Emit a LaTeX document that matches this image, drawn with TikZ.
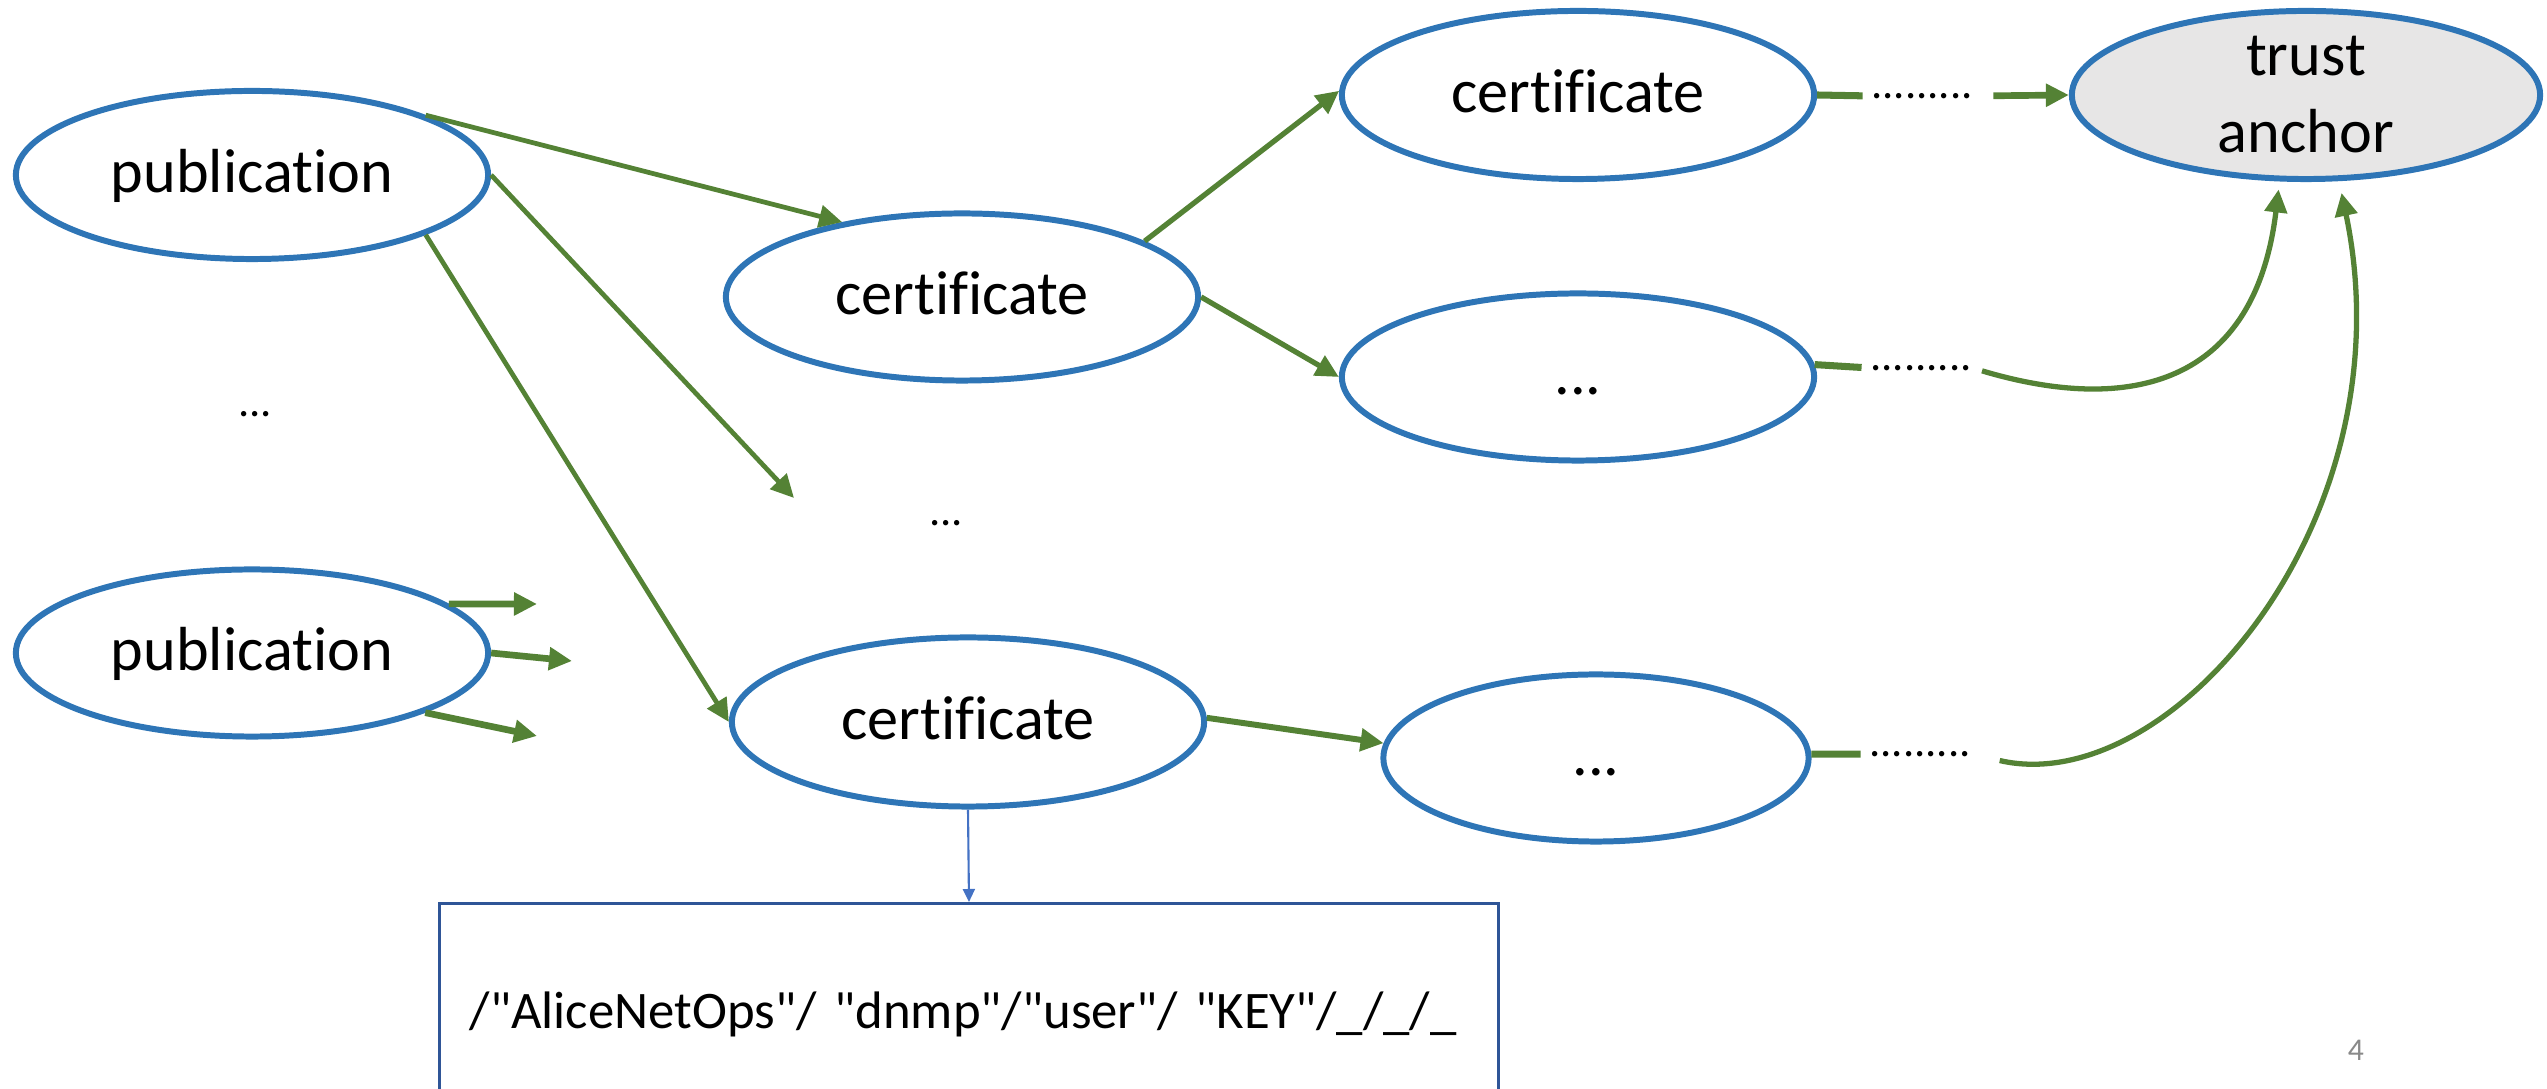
\documentclass[tikz,border=0pt]{standalone}
\usepackage{fontspec}
\setmainfont{Carlito}[Ligatures=NoCommon]
\usetikzlibrary{arrows.meta, shapes.geometric}
\definecolor{nodeblue}{HTML}{2E75B6}
\definecolor{arrgreen}{HTML}{548235}
\definecolor{anchgray}{HTML}{E7E6E6}
\definecolor{boxblue}{HTML}{2F5597}
\definecolor{linkblue}{HTML}{4472C4}
\definecolor{pagegray}{HTML}{898989}
\newcommand{\qq}{\textquotedbl}

\begin{document}
\begin{tikzpicture}[x=0.01cm, y=-0.01cm,
        oval/.style={ellipse, draw=nodeblue, line width=1.7pt, inner sep=0pt,
            minimum width=4.72cm, minimum height=1.68cm, font=\fontsize{17.7}{21.9}\selectfont},
        cell/.style={oval, text height=0.48cm, text depth=0.13cm},
        dotrow/.style={inner sep=0pt, font=\fontsize{12.7}{14}\selectfont},
        gline/.style={draw=arrgreen, line width=2pt, shorten >=0.08cm},
        garrow/.style={draw=arrgreen, line width=1.5pt, -{Triangle[length=0.23cm, width=0.22cm]}},
        gthin/.style={line width=1.35pt},
        gthick/.style={line width=1.9pt},
        pathbox/.style={draw=boxblue, line width=0.8pt, minimum height=2.25cm, text width=9.98cm,
            inner xsep=0.3cm, align=left, text height=0.35cm, text depth=0.1cm,
            font=\fontsize{15}{18}\selectfont},
        barrow/.style={draw=linkblue, line width=0.6pt, -{Triangle[length=0.13cm, width=0.12cm]}}]
    \clip (0,0) rectangle (2547,1089);
    % nodes
    \node[cell] (pub1) at (252,175) {publication};
    \node[cell, minimum height=1.67cm] (pub2) at (252,653) {publication};
    \node[cell, minimum height=1.67cm] (certA) at (962,297) {certificate};
    \node[cell] (certT) at (1578,95) {certificate};
    \node[cell, minimum height=1.67cm] (ellM) at (1578,377) {...};
    \node[cell, minimum height=1.69cm] (certB) at (968,722) {certificate};
    \node[cell, minimum width=4.25cm, minimum height=1.67cm] (ellB) at (1596,758) {...};
    \node[oval, fill=anchgray, align=center, minimum width=4.68cm] (trust) at (2306,95) {trust\\anchor};
    \node[dotrow] (gapL) at (255,414) {...};
    \node[dotrow] (gapM) at (946,523) {...};
    \node[dotrow] (dT) at (1922,96) {.........};
    \node[dotrow] (dM) at (1921,368) {.........};
    \node[dotrow] (dB) at (1920,754) {.........};
    \node[pathbox, anchor=north] (keybox) at (969,902) {/\qq AliceNetOps\qq/ \qq dnmp\qq/\qq user\qq/ \qq KEY\qq/\_/\_/\_};
    \node[font=\fontsize{9}{10}\selectfont, text=pagegray] (pgnum) at (2356,1050) {4};
    \coordinate (tipM) at (794,498);
    \coordinate (o1) at (537,604);
    \coordinate (o2) at (572,661);
    \coordinate (o3) at (537,736);
    % connectors
    \draw[garrow, gthin] (pub1.19) -- (certA.148);
    \draw[garrow, gthin] (pub1.east) -- (tipM);
    \draw[garrow, gthin] (pub1.-19) -- (certB.180);
    \draw[garrow] (certA.17) -- (certT.179);
    \draw[garrow] (certA.east) -- (ellM.west);
    \draw[garrow, line width=1.7pt] (certB.1) -- (ellB.176);
    \draw[garrow, gthick] (pub2.14) -- (o1);
    \draw[garrow, gthick] (pub2.east) -- (o2);
    \draw[garrow, gthick] (pub2.-19) -- (o3);
    \draw[gline] (certT.east) -- (dT.west);
    \draw[garrow, gthick, shorten <=0.2cm] (dT.east) -- (trust.west);
    \draw[gline] (ellM.3) -- (dM.west);
    \draw[garrow, shorten <=0.1cm, shorten >=0.08cm] (dM.east) .. controls (2130,415) and (2255,385) .. (trust.253);
    \draw[gline] (ellB.1) -- (dB.west);
    \draw[garrow, shorten <=0.29cm, shorten >=0.12cm] (dB.east) .. controls (2170,800) and (2410,520) .. (trust.291);
    \draw[barrow] (certB.south) -- (keybox.north);
\end{tikzpicture}
\end{document}
